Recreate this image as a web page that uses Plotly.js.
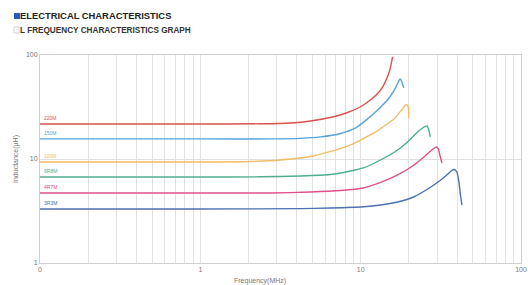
<!DOCTYPE html>
<html><head><meta charset="utf-8">
<script src="https://cdn.plot.ly/plotly-3.0.1.min.js"></script>
<style>html,body{margin:0;padding:0;background:#fff}#c{width:528px;height:285px}</style>
</head><body><div id="c"></div>
<script>
const names = ["220M","150M","100M","6R8M","4R7M","3R3M"];
const colors = ["#d9534f","#56a4d6","#f3bb6a","#4fae8c","#e0508a","#4d70b0"];
const f220 = [0.1,1,2.37,3.65,4.87,6.78,8.29,10,11.5,12.8,13.7,14.5,15.2,15.6,15.8];
const L220 = [21.7,21.7,21.8,22.2,23.2,25.5,28.0,31.8,36.9,42.8,49.2,58.7,71.8,85.7,95.7];
const f150 = [0.1,1,2.74,4.22,5.62,7.50,9.30,11.1,12.96,14.7,16.1,17.0,17.6,18.0,18.3,18.6];
const L150 = [15.6,15.6,15.6,15.8,16.3,17.6,19.9,24.5,30.3,36.9,45.1,53.2,58.7,56.2,51.5,48.2];
const f100 = [0.1,1,2.05,3.16,5.08,8.29,12.1,16.1,18.0,19.2,19.7,20.0];
const L100 = [9.36,9.36,9.46,9.78,10.7,13.3,17.8,24.3,29.6,33.4,32.3,24.8];
const f6R8 = [0.1,1,2.37,4.22,6.49,8.66,10.4,13.3,17.0,20.5,23.0,25.1,26.0,26.6,27.2];
const L6R8 = [6.71,6.71,6.74,6.87,7.10,7.66,8.20,9.78,12.2,15.6,18.6,20.5,20.8,19.0,16.3];
const f4R7 = [0.1,1,2.74,4.87,7.50,10.4,13.3,17.0,21.1,24.8,27.8,29.6,30.5,31.2,32.1];
const L4R7 = [4.71,4.71,4.71,4.82,4.98,5.26,5.95,7.02,8.57,10.45,12.2,13.05,12.5,10.9,9.15];
const f3R3 = [0.1,1,4.22,6.49,10.4,13.3,17.0,21.4,27.4,31.6,35.0,37.0,38.4,39.8,41.0,41.9,42.8];
const L3R3 = [3.31,3.31,3.33,3.38,3.48,3.61,3.86,4.31,5.38,6.28,7.17,7.75,7.93,7.50,6.01,4.51,3.61];
const freqs = [f220,f150,f100,f6R8,f4R7,f3R3];
const inds = [L220,L150,L100,L6R8,L4R7,L3R3];
const xTickVals = [0.1,1,10,100];
const xTickText = ["0","1","10","100"];
const yTickVals = [1,10,100];
const yTickText = ["1","10","100"];

const gridVals = [];
[0.1,1,10].forEach(d=>{for(let k=1;k<=10;k++){gridVals.push(d*k);}});
const gridText = gridVals.map(v=>{const i=xTickVals.findIndex(t=>Math.abs(t-v)/v<1e-6);return i>=0?xTickText[i]:"";});

const data = freqs.map((f,i)=>({x:f,y:inds[i],type:"scatter",mode:"lines",name:names[i],
  line:{color:colors[i],width:1.4,shape:"spline",smoothing:0.6},hoverinfo:"skip"}));

const ann = names.map((n,i)=>({x:-1,y:Math.log10(inds[i][0]),xref:"x",yref:"y",text:n,showarrow:false,
  xanchor:"left",yanchor:"bottom",xshift:2,yshift:1,font:{size:5,color:colors[i],family:"Liberation Sans, Arial"}}));
ann.push({xref:"paper",yref:"paper",x:-0.045,y:1.188,text:"<b>ELECTRICAL CHARACTERISTICS</b>",showarrow:false,
  xanchor:"left",yanchor:"middle",font:{size:9.4,color:"#222",family:"Liberation Sans, Arial"}});
ann.push({xref:"paper",yref:"paper",x:-0.045,y:1.12,text:"<b>L FREQUENCY CHARACTERISTICS GRAPH</b>",showarrow:false,
  xanchor:"left",yanchor:"middle",font:{size:8.2,color:"#333",family:"Liberation Sans, Arial"}});
ann.push({xref:"paper",yref:"paper",x:0.457,y:-0.06,text:"Frequency(MHz)",showarrow:false,
  xanchor:"center",yanchor:"top",font:{size:7,color:"#777",family:"Liberation Sans, Arial"}});

const layout = {
  width:528,height:285,margin:{l:40,r:7,t:55,b:22},
  paper_bgcolor:"#fff",plot_bgcolor:"#fff",showlegend:false,
  font:{family:"Liberation Sans, Arial",color:"#777",size:7},
  xaxis:{type:"log",range:[-1,2],tickmode:"array",tickvals:gridVals,ticktext:gridText,
    showgrid:true,gridcolor:"#e2e2e2",gridwidth:1,ticks:"",showline:true,linecolor:"#cfcfcf",mirror:true,
    tickfont:{size:7,color:"#777"},zeroline:false,ticklen:0},
  yaxis:{type:"log",range:[0,2],tickmode:"array",tickvals:yTickVals,ticktext:yTickText,
    showgrid:true,gridcolor:"#e2e2e2",showline:true,linecolor:"#cfcfcf",mirror:true,
    tickfont:{size:7,color:"#777"},ticks:"",zeroline:false,
    title:{text:"Inductance(μH)",font:{size:7,color:"#777"},standoff:6}},
  shapes:[
    {type:"rect",xref:"paper",yref:"paper",x0:-0.054,x1:-0.0416,y0:1.173,y1:1.202,fillcolor:"#2a5cc0",line:{width:0}},
    {type:"rect",xref:"paper",yref:"paper",x0:-0.054,x1:-0.0437,y0:1.106,y1:1.135,fillcolor:"#fff",line:{width:0.6,color:"#bbb"}}
  ],
  annotations:ann
};
Plotly.newPlot("c",data,layout,{staticPlot:true});
</script></body></html>
